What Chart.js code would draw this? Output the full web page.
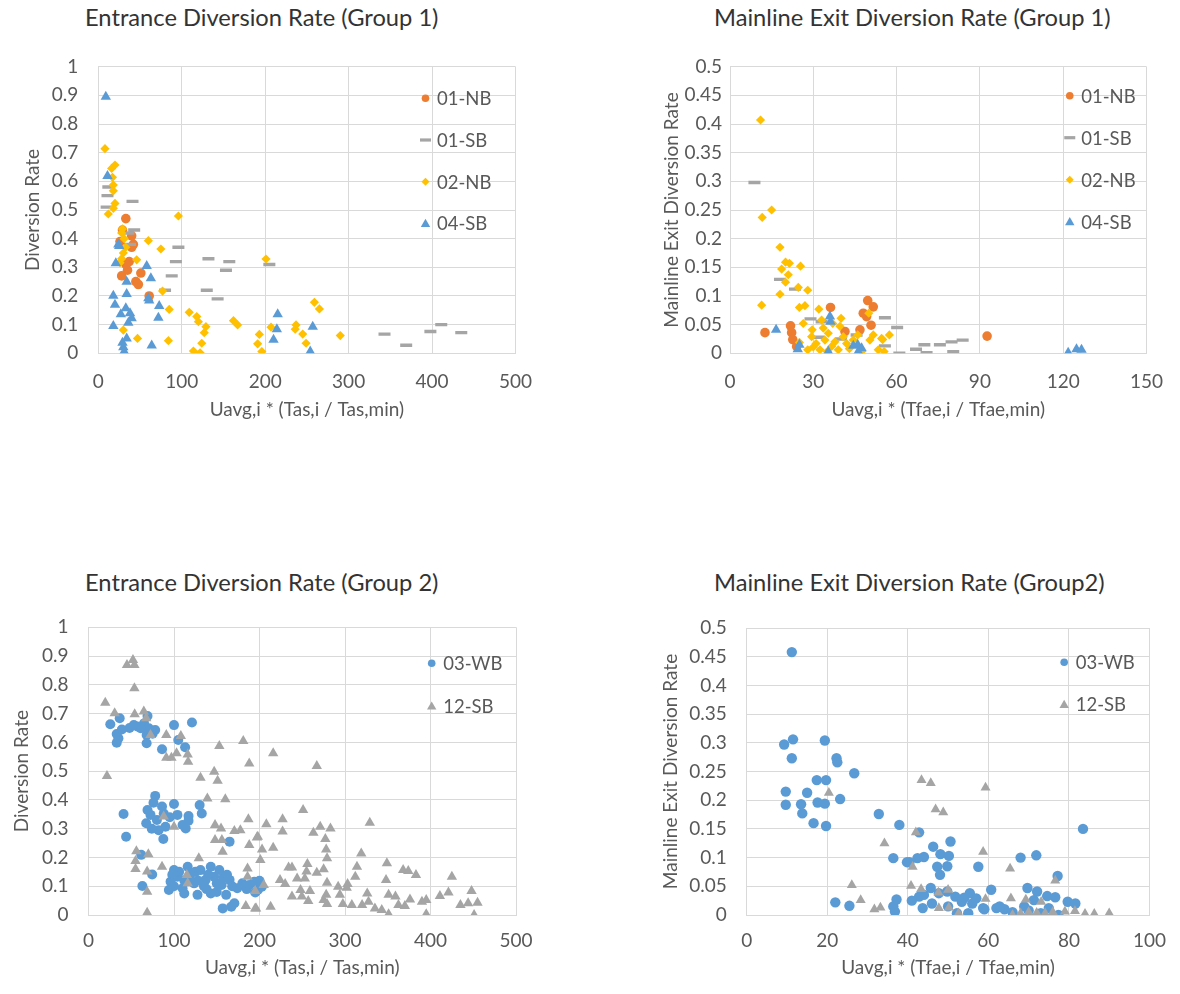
<!DOCTYPE html>
<html>
<head>
<meta charset="utf-8">
<script src="https://cdn.jsdelivr.net/npm/chart.js"></script>
<style>
body{margin:0;background:#fff;width:1180px;height:994px;position:relative;overflow:hidden;font-family:Lato,sans-serif}
canvas{position:absolute}
.ttl{position:absolute;font-size:23.7px;line-height:1;color:#333;white-space:nowrap}
</style>
</head>
<body>
<div class="ttl" style="left:85px;top:6.3px">Entrance Diversion Rate (Group 1)</div>
<div class="ttl" style="left:714px;top:6.3px">Mainline Exit Diversion Rate (Group 1)</div>
<div class="ttl" style="left:85px;top:570.7px">Entrance Diversion Rate (Group 2)</div>
<div class="ttl" style="left:714px;top:570.7px">Mainline Exit Diversion Rate (Group2)</div>
<canvas id="c1" width="590" height="440" style="left:0;top:0"></canvas>
<canvas id="c2" width="540" height="440" style="left:640px;top:0"></canvas>
<canvas id="c3" width="590" height="434" style="left:0;top:560px"></canvas>
<canvas id="c4" width="540" height="434" style="left:640px;top:560px"></canvas>
<script>
// ---- group 1, entrance ----
const ent1NbX=[33,29,40,26,40,37,35,28,45,48,51,61,33,42];
const ent1NbY=[0.47,0.43,0.41,0.39,0.37,0.32,0.29,0.27,0.25,0.24,0.28,0.2,0.31,0.38];
const ent1SbX=[12,11,10,41,43,38,36,96,93,88,80,132,157,153,130,143,205,343,369,398,411,435];
const ent1SbY=[0.58,0.55,0.51,0.53,0.43,0.38,0.42,0.37,0.32,0.27,0.22,0.33,0.32,0.29,0.22,0.19,0.31,0.067,0.028,0.076,0.1,0.072];
const ent2NbX=[8,20,16,17,18,18,20,18,12,96,29,31,33,28,26,46,60,75,77,85,30,47,84,109,118,120,129,127,124,114,122,162,167,201,207,193,191,196,237,236,259,265,245,249,290,28,30];
const ent2NbY=[0.714,0.657,0.645,0.614,0.587,0.567,0.523,0.506,0.486,0.479,0.434,0.4,0.37,0.33,0.316,0.326,0.393,0.364,0.217,0.153,0.081,0.052,0.044,0.143,0.128,0.11,0.093,0.072,0.035,0.008,0.002,0.114,0.099,0.329,0.091,0.066,0.033,0.006,0.099,0.084,0.178,0.155,0.067,0.035,0.062,0.42,0.35];
const ent4SbX=[9,11,25,21,34,34,18,20,33,27,40,36,18,34,29,30,31,58,63,60,61,73,72,64,215,214,210,257,254,24,38];
const ent4SbY=[0.895,0.619,0.374,0.314,0.25,0.207,0.201,0.169,0.157,0.136,0.122,0.107,0.095,0.052,0.037,0.021,0.006,0.305,0.262,0.192,0.184,0.165,0.124,0.027,0.136,0.084,0.047,0.093,0.006,0.38,0.14];

// ---- group 1, mainline exit ----
const ex1NbX=[12.6,21.8,22.2,22.6,36.2,41.4,49.6,51.6,49.2,50.8,46.8,92.6,24,48];
const ex1NbY=[0.036,0.048,0.036,0.024,0.08,0.038,0.092,0.081,0.064,0.049,0.041,0.03,0.012,0.07];
const ex1SbX=[8.8,18,23.4,29,33,32,45.6,55.8,55.8,60.2,61,67,70,70.8,75.6,79.8,83.8,80.4,40];
const ex1SbY=[0.298,0.129,0.112,0.06,0.055,0.028,0.032,0.062,0.013,0.045,0,0.007,0.015,0.001,0.015,0.02,0.023,0.003,0.025];
const ex2NbX=[11,15,11.6,18,20,21.4,18.6,21,20,25.4,24.6,28,18,11.4,25,27,32,26.4,40,33.6,50,51.6,57.4,55,55.5,25,28,29.4,31,32.4,34.2,35.4,36.6,37.8,39,40.8,42,44.4,46,47.4,50.4,53.4,54.6,29.6,33,37,39.6,30,35,43];
const ex2NbY=[0.407,0.25,0.237,0.185,0.159,0.157,0.147,0.137,0.124,0.152,0.115,0.11,0.103,0.084,0.08,0.083,0.077,0.052,0.061,0.044,0.07,0.032,0.032,0.024,0.003,0.019,0.006,0.029,0.017,0.006,0.023,0.035,0.012,0.02,0.006,0.029,0.017,0.023,0.032,0.003,0.023,0.006,0.026,0.041,0.058,0.052,0.047,0.011,0.003,0.008];
const ex4SbX=[16.6,24.4,36,36.2,35.4,44.4,46.2,47.4,121.8,124.8,126.6,25,46];
const ex4SbY=[0.041,0.007,0.064,0.055,0.003,0.013,0.003,0.009,0.001,0.007,0.006,0.015,0.015];

// ---- group 2, entrance ----
const ent3WbX=[25.5,36.5,33,39,35,33,53,57,61,69,65,70.6,78,68,68,73,86,100,105,113,121,48,75,
  41,44,78,76,69,72.5,67.5,80,86,88,82,90,87.5,100,104,110,113.7,117,117,130,132.5,165,74,95,
  61.6,63,74.5,94,96,100,104,110,112,116,120,123.5,127.5,131,137,143,147,143,153,155.7,157,161,165,167,170.6,174,188,194,198,200,195,202.7,98,106,118,128,135,140,150,158,168,100,112,125,138,150,162,180,185];
const ent3WbY=[0.663,0.684,0.629,0.645,0.614,0.599,0.66,0.655,0.649,0.692,0.666,0.649,0.643,0.626,0.597,0.637,0.576,0.66,0.608,0.583,0.669,0.65,0.63,
  0.351,0.272,0.414,0.39,0.365,0.348,0.319,0.33,0.377,0.353,0.295,0.307,0.264,0.386,0.348,0.313,0.301,0.344,0.328,0.382,0.353,0.255,0.3,0.34,
  0.209,0.101,0.141,0.087,0.116,0.156,0.133,0.093,0.075,0.168,0.145,0.11,0.07,0.156,0.122,0.168,0.133,0.075,0.156,0.104,0.023,0.07,0.122,0.029,0.041,0.093,0.104,0.116,0.087,0.119,0.078,0.098,0.14,0.15,0.13,0.12,0.1,0.14,0.11,0.13,0.1,0.1,0.12,0.15,0.09,0.08,0.14,0.11,0.09];
const ent12SbX=[19.6,21.6,30.6,45,52,53.7,53.7,54,64.7,67.5,72.5,91,108,91,97,103,116,116.5,131,147,151,139,160,153,181,188,187,88,100,148,155,156,170.6,177.6,148,156.9,188,198,56,55,55,70,68.6,86,68.6,68.6,115,116,129,186,186,195,184,196,
  216,267,251,227,208,227,263,271,283,277,329,197,278,279,203,216,201,319,349,314,368,374,383,425,234,238,256,255,267,275,244,253,224,230,279,312,303,302,292,294,248,259,249.5,257,238,278,275,279,297.5,308,320,327.5,326,335,343,351,348,351,359,362.5,370,376,390,395,395,411,421,435,444,448,455,451,213,195,205];
const ent12SbY=[0.738,0.483,0.701,0.869,0.886,0.869,0.788,0.698,0.707,0.684,0.626,0.626,0.622,0.547,0.547,0.562,0.558,0.533,0.477,0.498,0.467,0.405,0.402,0.587,0.605,0.527,0.333,0.342,0.307,0.313,0.301,0.261,0.292,0.295,0.261,0.22,0.243,0.272,0.222,0.188,0.16,0.211,0.151,0.168,0.081,0.008,0.139,0.11,0.197,0.162,0.133,0.083,0.031,0.023,
  0.562,0.518,0.365,0.333,0.315,0.29,0.286,0.307,0.301,0.264,0.321,0.269,0.228,0.197,0.228,0.234,0.191,0.214,0.18,0.168,0.156,0.153,0.139,0.133,0.165,0.165,0.177,0.151,0.147,0.159,0.127,0.127,0.122,0.108,0.112,0.133,0.108,0.095,0.098,0.07,0.087,0.083,0.064,0.049,0.064,0.07,0.052,0.038,0.038,0.035,0.035,0.046,0.075,0.023,0.017,0.003,0.122,0.07,0.064,0.035,0.031,0.054,0.046,0.052,0.003,0.066,0.078,0.035,0.041,0.083,0.043,0,0.029,0.023,0.104];

// ---- group 2, mainline exit ----
const ex3WbX=[11.2,9.3,11.5,11.2,19.4,22.3,22.5,26.7,17.4,19.7,9.7,15,9.7,13.5,17.6,19.4,23.2,13.8,16.6,19.7,32.8,37.9,36.4,22,25.5,37.2,36.4,36.8,39.8,42.8,46.3,50.6,48.1,50.2,40.4,42.4,44,47.3,48,49.8,57.5,68,71.9,77.2,83.5,45.7,47.7,49.8,51.8,53.4,55.4,57,60.7,58.7,55,52.2,62,62.8,69.7,72.1,74.6,76.6,79.7,81.6,73,77.4,43.7,42.8,68.9,71.3,41,44,46,50,54,56,59,64,66,70,75];
const ex3WbY=[0.458,0.297,0.306,0.273,0.304,0.273,0.266,0.247,0.235,0.235,0.215,0.213,0.192,0.193,0.196,0.194,0.202,0.177,0.16,0.155,0.176,0.157,0.099,0.022,0.016,0.027,0.015,0.006,0.092,0.144,0.119,0.128,0.106,0.103,0.092,0.099,0.101,0.084,0.07,0.085,0.084,0.1,0.104,0.068,0.15,0.047,0.038,0.041,0.032,0.023,0.038,0.029,0.044,0.012,0.003,0.003,0.012,0.015,0.047,0.041,0.033,0.031,0.023,0.02,0.003,0,0.012,0.032,0.015,0.026,0.025,0.035,0.02,0.015,0.03,0.02,0.01,0.01,0.005,0.008,0.012];
const ex12SbX=[20.4,34.2,26.1,28.3,31.7,33.2,43.4,45.7,59.3,46.9,48.8,42,58.7,41.2,65.4,40.8,43.3,47.6,50,76.6,59.3,65.6,69.3,73.1,47.7,50.2,52.6,66,68,74.1,76,79,81.5,84,86.3,90,70,72];
const ex12SbY=[0.213,0.125,0.052,0.026,0.01,0.013,0.235,0.23,0.222,0.184,0.179,0.144,0.11,0.084,0.081,0.051,0.045,0.039,0.044,0.06,0.028,0.029,0.027,0.023,0.012,0.013,0.003,0,0.003,0.003,0.005,0.006,0.007,0.002,0.002,0.003,0.005,0.004];

const ORANGE="#ED7D31",GRAY="#A5A5A5",YELLOW="#FFC000",BLUE="#5B9BD5";
const TXT="#595959",GRID="#D9D9D9";

Chart.defaults.font.family="Lato";

function pts(xs,ys){
  return xs.map((x,i)=>({x:x,y:ys[i]}));
}

function fmt(v){
  return String(Math.round(v*100)/100);
}

// small marker used in the legend
function marker(ctx,style,color,x,y){
  ctx.fillStyle=color;
  ctx.beginPath();
  if(style==="circle"){
    ctx.arc(x,y,3.8,0,Math.PI*2);
  }else if(style==="line"){
    ctx.rect(x-5.5,y-1.6,11,3.2);
  }else if(style==="rectRot"){
    ctx.moveTo(x,y-4);ctx.lineTo(x+4,y);ctx.lineTo(x,y+4);ctx.lineTo(x-4,y);
  }else{
    ctx.moveTo(x,y-4.6);ctx.lineTo(x+4.7,y+3.6);ctx.lineTo(x-4.7,y+3.6);
  }
  ctx.closePath();
  ctx.fill();
}

const insideLegend={
  id:"insideLegend",
  afterDraw(chart,args,opts){
    const ctx=chart.ctx;
    const a=chart.chartArea;
    ctx.save();
    ctx.font="18.5px Lato";
    ctx.textBaseline="middle";
    chart.data.datasets.forEach((ds,i)=>{
      const x=a.right+opts.dx;
      const y=a.top+opts.dy+i*opts.gap;
      marker(ctx,ds.pointStyle,ds.backgroundColor,x,y);
      ctx.fillStyle=TXT;
      ctx.fillText(ds.label,x+11.5,y+1);
    });
    ctx.restore();
  }
};

function panel(id,c){
  return new Chart(document.getElementById(id),{
    type:"scatter",
    data:{
      datasets:c.series.map((s,i)=>({
        label:s.label,
        data:pts(s.x,s.y),
        pointStyle:s.style,
        pointRadius:s.r,
        pointHoverRadius:s.r,
        backgroundColor:s.color,
        borderColor:s.color,
        borderWidth:s.style==="line"?3.4:0,
        order:c.series.length-i
      }))
    },
    options:{
      responsive:false,
      animation:false,
      devicePixelRatio:1,
      layout:{padding:c.pad},
      plugins:{
        legend:{display:false},
        tooltip:{enabled:false},
        insideLegend:c.legend
      },
      scales:{
        x:{
          type:"linear",min:0,max:c.xMax,
          afterFit:(s)=>{s.height=c.xH;},
          grid:{color:GRID,drawTicks:false},
          border:{color:GRID},
          ticks:{stepSize:c.xStep,padding:c.xTickPad,color:TXT,font:{size:19},maxRotation:0,callback:fmt},
          title:{display:true,text:c.xTitle,color:TXT,font:{size:19},padding:{top:0,bottom:c.xTitlePad}}
        },
        y:{
          type:"linear",min:0,max:c.yMax,
          afterFit:(s)=>{s.width=c.yW;},
          grid:{color:GRID,drawTicks:false},
          border:{color:GRID},
          ticks:{stepSize:c.yStep,padding:c.yTickPad,color:TXT,font:{size:19},callback:fmt},
          title:{display:true,text:c.yTitle,color:TXT,font:{size:19},padding:{top:c.yTitlePad,bottom:0}}
        }
      }
    },
    plugins:[insideLegend]
  });
}

panel("c1",{
  series:[
    {label:"01-NB",x:ent1NbX,y:ent1NbY,style:"circle",r:4.8,color:ORANGE},
    {label:"01-SB",x:ent1SbX,y:ent1SbY,style:"line",r:6,color:GRAY},
    {label:"02-NB",x:ent2NbX,y:ent2NbY,style:"rectRot",r:4.6,color:YELLOW},
    {label:"04-SB",x:ent4SbX,y:ent4SbY,style:"triangle",r:6,color:BLUE}
  ],
  pad:{left:0,top:66.7,right:74.5,bottom:0},
  xMax:500,xStep:100,yMax:1,yStep:0.1,
  xH:86.7,yW:98.3,xTickPad:17,yTickPad:20,xTitlePad:18.6,yTitlePad:21,
  xTitle:"Uavg,i * (Tas,i / Tas,min)",yTitle:"Diversion Rate",
  legend:{dx:-90,dy:31.6,gap:41.7}
});

panel("c2",{
  series:[
    {label:"01-NB",x:ex1NbX,y:ex1NbY,style:"circle",r:4.8,color:ORANGE},
    {label:"01-SB",x:ex1SbX,y:ex1SbY,style:"line",r:6,color:GRAY},
    {label:"02-NB",x:ex2NbX,y:ex2NbY,style:"rectRot",r:4.6,color:YELLOW},
    {label:"04-SB",x:ex4SbX,y:ex4SbY,style:"triangle",r:6,color:BLUE}
  ],
  pad:{left:0,top:66.7,right:33.3,bottom:0},
  xMax:150,xStep:30,yMax:0.5,yStep:0.05,
  xH:86.7,yW:90,xTickPad:17,yTickPad:8,xTitlePad:18.6,yTitlePad:20.3,
  xTitle:"Uavg,i * (Tfae,i / Tfae,min)",yTitle:"Mainline Exit Diversion Rate",
  legend:{dx:-76.7,dy:29,gap:42}
});

panel("c3",{
  series:[
    {label:"03-WB",x:ent3WbX,y:ent3WbY,style:"circle",r:5,color:BLUE},
    {label:"12-SB",x:ent12SbX,y:ent12SbY,style:"triangle",r:6,color:GRAY}
  ],
  pad:{left:0,top:67.3,right:74,bottom:0},
  xMax:500,xStep:100,yMax:1,yStep:0.1,
  xH:79,yW:88.5,xTickPad:14,yTickPad:20,xTitlePad:14.3,yTitlePad:10.3,
  xTitle:"Uavg,i * (Tas,i / Tas,min)",yTitle:"Diversion Rate",
  legend:{dx:-84.3,dy:36,gap:42.7}
});

panel("c4",{
  series:[
    {label:"03-WB",x:ex3WbX,y:ex3WbY,style:"circle",r:5.2,color:BLUE},
    {label:"12-SB",x:ex12SbX,y:ex12SbY,style:"triangle",r:5.8,color:GRAY}
  ],
  pad:{left:0,top:68,right:24,bottom:0},
  xMax:100,xStep:20,yMax:0.5,yStep:0.05,
  xH:79,yW:106.7,xTickPad:14,yTickPad:20,xTitlePad:14.3,yTitlePad:19.6,
  xTitle:"Uavg,i * (Tfae,i / Tfae,min)",yTitle:"Mainline Exit Diversion Rate",
  legend:{dx:-85.3,dy:34.3,gap:42}
});
</script>
</body>
</html>
